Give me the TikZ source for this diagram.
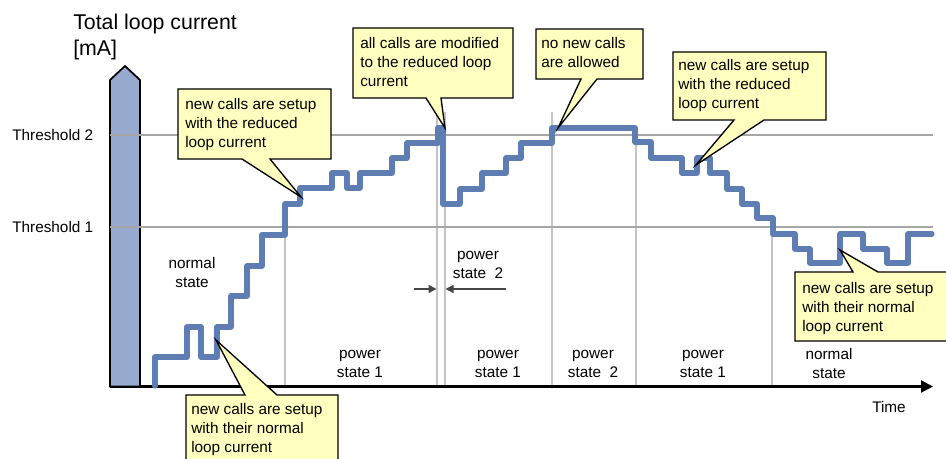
\documentclass[tikz,border=0pt]{standalone}
\usepackage{fontspec}
\setmainfont{Liberation Sans}
\usetikzlibrary{arrows.meta}

\definecolor{stepblue}{RGB}{94,125,178}
\definecolor{axisblue}{RGB}{149,170,206}
\definecolor{noteyellow}{RGB}{255,255,192}
\definecolor{levelgray}{RGB}{166,166,166}
\definecolor{phasegray}{RGB}{196,196,196}
\definecolor{markgray}{RGB}{70,70,70}

\tikzset{
  labeltext/.style={font=\fontsize{11.5}{14.25}\selectfont, inner sep=0pt, align=center},
  notetext/.style={font=\fontsize{11.5}{14.25}\selectfont, inner sep=0pt, align=left, anchor=north west},
  callout/.style={draw=black, line width=1pt, fill=noteyellow, line join=miter},
  levelline/.style={levelgray, line width=1.4pt},
  phaseline/.style={phasegray, line width=1pt},
  currentline/.style={stepblue, line width=3.8pt, line join=round, line cap=round},
  spanarrow/.style={markgray, line width=1.1pt, -{Triangle[length=6pt,width=6pt]}}
}

\begin{document}
\begin{tikzpicture}[x=0.75pt,y=-0.75pt]
\useasboundingbox (0,0) rectangle (946,459);
\clip (0,0) rectangle (946,459);

% phase boundaries
\draw[phaseline] (285,227) -- (285,386);
\draw[phaseline] (437,112) -- (437,386);
\draw[phaseline] (445,112) -- (445,386);
\draw[phaseline] (552,112) -- (552,386);
\draw[phaseline] (636,135) -- (636,386);
\draw[phaseline] (772,227) -- (772,386);

% time axis
\coordinate (origin) at (110,386.5);
\coordinate (tend) at (933,386.5);
\draw[black, line width=1.6pt, -{Triangle[length=9pt,width=9pt]}] (origin) -- (tend);

% current axis
\path[draw=black, line width=1.3pt, fill=axisblue, line join=miter]
  (110,386.5) -- (110,80) -- (125,66) -- (140,80) -- (140,386.5) -- cycle;

% threshold levels
\node[labeltext, anchor=west] (th2) at (12,135) {Threshold 2};
\node[labeltext, anchor=west] (th1) at (12,227) {Threshold 1};
\draw[levelline] (110,135) -- (933,135);
\draw[levelline] (110,227) -- (933,227);

% axis titles
\node[font=\fontsize{16}{19}\selectfont, inner sep=0pt, align=left, anchor=north west] (ytitle) at (73,14) {Total loop current\\{}[mA]};
\node[labeltext] (xtitle) at (889,407) {Time};

% loop current over time
\draw[currentline]
  (155,386) -- (155,357) -- (187,357) -- (187,327) -- (201,327) -- (201,357)
  -- (217,357) -- (217,327) -- (231,327) -- (231,296) -- (247,296) -- (247,266)
  -- (262,266) -- (262,235) -- (285,235) -- (285,204) -- (300,204) -- (300,188)
  -- (332,188) -- (332,173) -- (347,173) -- (347,188) -- (360,188) -- (360,173)
  -- (392,173) -- (392,158) -- (407,158) -- (407,143) -- (438,143) -- (438,128)
  -- (443,128) -- (443,204) -- (460,204) -- (460,189) -- (482,189) -- (482,173)
  -- (506,173) -- (506,158) -- (521,158) -- (521,143) -- (552,143) -- (552,128)
  -- (635,128) -- (635,142) -- (651,142) -- (651,158) -- (682,158) -- (682,173)
  -- (697,173) -- (697,158) -- (710,158) -- (710,173) -- (727,173) -- (727,189)
  -- (742,189) -- (742,204) -- (757,204) -- (757,218) -- (773,218) -- (773,234)
  -- (795,234) -- (795,249) -- (810,249) -- (810,263) -- (840,263) -- (840,234)
  -- (863,234) -- (863,249) -- (887,249) -- (887,263) -- (908,263) -- (908,234)
  -- (932,234);

% points on the curve that the notes refer to
\coordinate (tipA) at (301,197);
\coordinate (tipB) at (445,128);
\coordinate (tipC) at (558,128);
\coordinate (tipD) at (696,165);
\coordinate (tipE) at (216,340);
\coordinate (tipF) at (840,250);

% state labels
\node[labeltext] (s0) at (192,272.5) {normal\\state};
\node[labeltext] (s1) at (360,364) {power\\state 1};
\node[labeltext] (s2) at (498,364) {power\\state 1};
\node[labeltext] (s3) at (593,364) {power\\state\ \ 2};
\node[labeltext] (s4) at (703,364) {power\\state 1};
\node[labeltext] (s5) at (829,364) {normal\\state};
\node[labeltext] (sbrief) at (478,265) {power\\state\ \ 2};

% short power state 2 interval
\coordinate (spanL) at (414,289);
\coordinate (spanLend) at (436.5,289);
\coordinate (spanR) at (506,289);
\coordinate (spanRend) at (445.5,289);
\draw[spanarrow] (spanL) -- (spanLend);
\draw[spanarrow] (spanR) -- (spanRend);

% notes
\path[callout] (178,89) -- (331,89) -- (331,159) -- (270,159) -- (tipA) -- (242,159) -- (178,159) -- cycle;
\node[notetext] (noteA) at (185,98.5) {new calls are setup\\with the reduced\\loop current};

\path[callout] (353,28) -- (513,28) -- (513,98) -- (441,98) -- (tipB) -- (426,98) -- (353,98) -- cycle;
\node[notetext] (noteB) at (360,37) {all calls are modified\\to the reduced loop\\current};

\path[callout] (536,29) -- (643,29) -- (643,79) -- (597,79) -- (tipC) -- (581,79) -- (536,79) -- cycle;
\node[notetext] (noteC) at (541,37) {no new calls\\are allowed};

\path[callout] (673,52) -- (826,52) -- (826,120) -- (764,120) -- (tipD) -- (734,120) -- (673,120) -- cycle;
\node[notetext] (noteD) at (678,59.5) {new calls are setup\\with the reduced\\loop current};

\path[callout] (186,395) -- (245,395) -- (tipE) -- (277,395) -- (338,395) -- (338,470) -- (186,470) -- cycle;
\node[notetext] (noteE) at (191,403) {new calls are setup\\with their normal\\loop current};

\path[callout] (795,272) -- (853,272) -- (tipF) -- (878,272) -- (960,272) -- (960,341) -- (795,341) -- cycle;
\node[notetext] (noteF) at (802,282) {new calls are setup\\with their normal\\loop current};

\end{tikzpicture}
\end{document}
